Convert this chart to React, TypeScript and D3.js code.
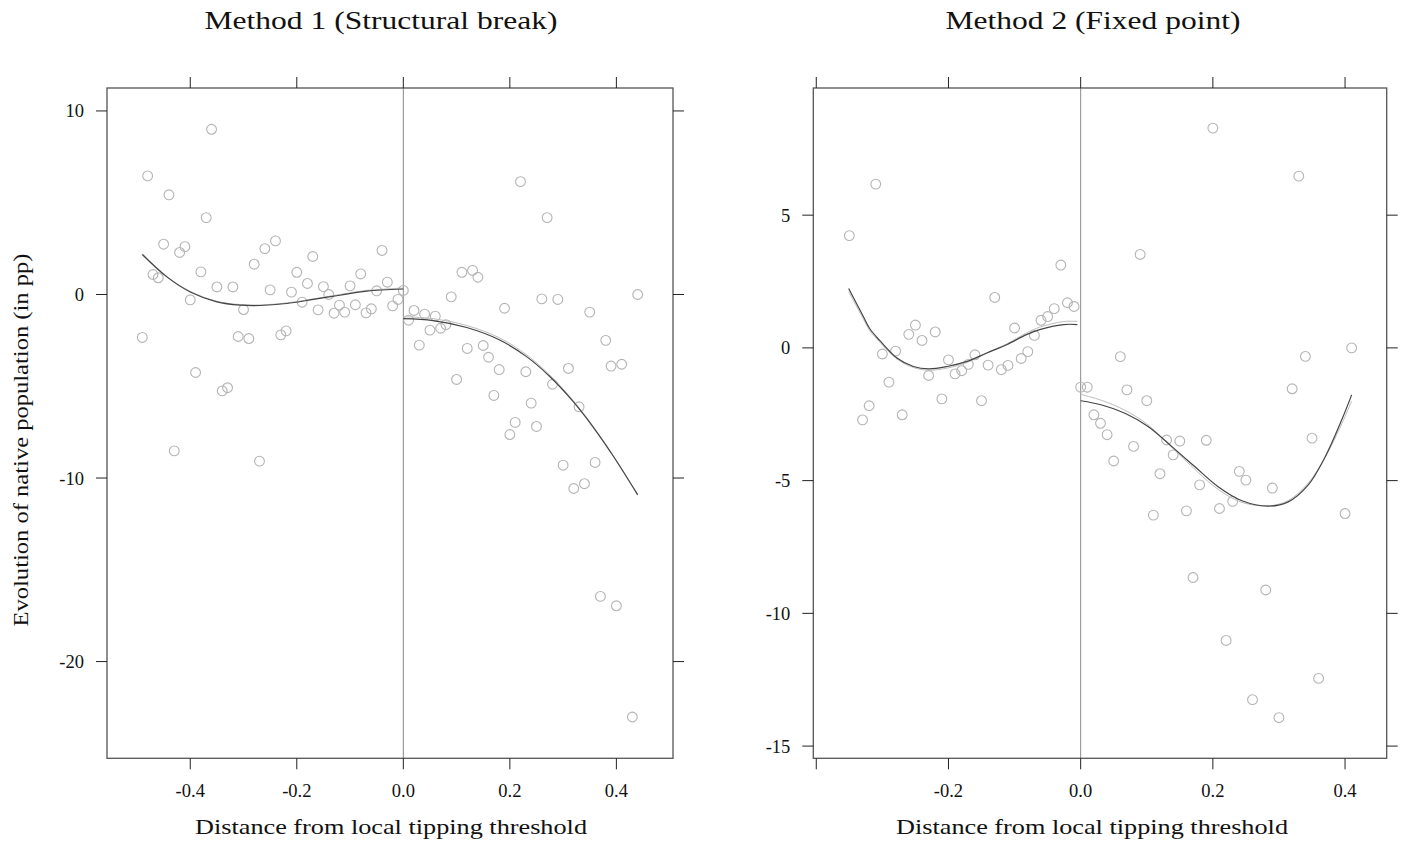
import React from "react";
import * as d3 from "d3";

type P = [number, number];

// ---------- Method 1 (Structural break) ----------
const m1Points: P[] = [
  [-0.49, -2.34], [-0.48, 6.46], [-0.47, 1.09], [-0.46, 0.91], [-0.45, 2.74], [-0.44, 5.43],
  [-0.43, -8.52], [-0.42, 2.29], [-0.41, 2.61], [-0.4, -0.29], [-0.39, -4.25], [-0.38, 1.23],
  [-0.37, 4.19], [-0.36, 9.0], [-0.35, 0.41], [-0.34, -5.25], [-0.33, -5.08], [-0.32, 0.41],
  [-0.31, -2.29], [-0.3, -0.82], [-0.29, -2.4], [-0.28, 1.65], [-0.27, -9.08], [-0.26, 2.5],
  [-0.25, 0.25], [-0.24, 2.92], [-0.23, -2.2], [-0.22, -1.98], [-0.21, 0.13], [-0.2, 1.21],
  [-0.19, -0.42], [-0.18, 0.6], [-0.17, 2.07], [-0.16, -0.84], [-0.15, 0.43], [-0.14, 0.0],
  [-0.13, -1.02], [-0.12, -0.58], [-0.11, -0.96], [-0.1, 0.47], [-0.09, -0.56], [-0.08, 1.12],
  [-0.07, -1.0], [-0.06, -0.78], [-0.05, 0.2], [-0.04, 2.4], [-0.03, 0.67], [-0.02, -0.62],
  [-0.01, -0.27], [0.0, 0.22],
  [0.01, -1.4], [0.02, -0.87], [0.03, -2.76], [0.04, -1.07], [0.05, -1.94], [0.06, -1.18],
  [0.07, -1.84], [0.08, -1.64], [0.09, -0.13], [0.1, -4.63], [0.11, 1.21], [0.12, -2.94],
  [0.13, 1.31], [0.14, 0.94], [0.15, -2.78], [0.16, -3.42], [0.17, -5.5], [0.18, -4.09],
  [0.19, -0.75], [0.2, -7.63], [0.21, -6.97], [0.22, 6.15], [0.23, -4.21], [0.24, -5.92],
  [0.25, -7.19], [0.26, -0.24], [0.27, 4.19], [0.28, -4.89], [0.29, -0.27], [0.3, -9.3],
  [0.31, -4.03], [0.32, -10.57], [0.33, -6.12], [0.34, -10.31], [0.35, -0.96], [0.36, -9.15],
  [0.37, -16.45], [0.38, -2.5], [0.39, -3.9], [0.4, -16.96], [0.41, -3.8], [0.43, -23.02],
  [0.44, 0.0],
];
const m1FitDarkLeft: P[] = [
  [-0.49, 2.18], [-0.444, 0.96], [-0.4, 0.14], [-0.35, -0.4], [-0.306, -0.58], [-0.269, -0.6],
  [-0.219, -0.49], [-0.169, -0.27], [-0.119, -0.04], [-0.069, 0.18], [0.0, 0.3],
];
const m1FitLightLeft: P[] = [
  [-0.49, 2.22], [-0.444, 0.99], [-0.4, 0.17], [-0.35, -0.37], [-0.306, -0.55], [-0.269, -0.57],
  [-0.219, -0.46], [-0.169, -0.24], [-0.119, 0.0], [-0.069, 0.22], [0.0, 0.35],
];
const m1FitDarkRight: P[] = [
  [0.0, -1.31], [0.056, -1.42], [0.119, -1.8], [0.181, -2.48], [0.232, -3.4], [0.275, -4.47],
  [0.319, -5.84], [0.356, -7.21], [0.394, -8.8], [0.44, -10.92],
];
const m1FitLightRight: P[] = [
  [0.0, -1.21], [0.056, -1.32], [0.119, -1.69], [0.181, -2.37], [0.232, -3.3], [0.275, -4.39],
  [0.319, -5.78], [0.356, -7.17], [0.394, -8.77], [0.44, -10.88],
];
const m1XTicks = [-0.4, -0.2, 0.0, 0.2, 0.4];
const m1XLabels = ["-0.4", "-0.2", "0.0", "0.2", "0.4"];
const m1YTicks = [10, 0, -10, -20];
const m1YLabels = ["10", "0", "-10", "-20"];

// ---------- Method 2 (Fixed point) ----------
const m2Points: P[] = [
  [-0.35, 4.23], [-0.33, -2.71], [-0.32, -2.18], [-0.31, 6.17], [-0.3, -0.23], [-0.29, -1.29],
  [-0.28, -0.12], [-0.27, -2.52], [-0.26, 0.51], [-0.25, 0.86], [-0.24, 0.28], [-0.23, -1.04],
  [-0.22, 0.6], [-0.21, -1.92], [-0.2, -0.45], [-0.19, -0.98], [-0.18, -0.86], [-0.17, -0.62],
  [-0.16, -0.26], [-0.15, -1.99], [-0.14, -0.65], [-0.13, 1.9], [-0.12, -0.82], [-0.11, -0.66],
  [-0.1, 0.75], [-0.09, -0.4], [-0.08, -0.14], [-0.07, 0.47], [-0.06, 1.04], [-0.05, 1.18],
  [-0.04, 1.48], [-0.03, 3.12], [-0.02, 1.7], [-0.01, 1.56], [0.0, -1.48],
  [0.01, -1.48], [0.02, -2.52], [0.03, -2.84], [0.04, -3.27], [0.05, -4.26], [0.06, -0.33],
  [0.07, -1.58], [0.08, -3.71], [0.09, 3.52], [0.1, -1.99], [0.11, -6.3], [0.12, -4.74],
  [0.13, -3.47], [0.14, -4.03], [0.15, -3.51], [0.16, -6.14], [0.17, -8.65], [0.18, -5.16],
  [0.19, -3.48], [0.2, 8.28], [0.21, -6.05], [0.22, -11.02], [0.23, -5.78], [0.24, -4.65],
  [0.25, -4.98], [0.26, -13.25], [0.28, -9.12], [0.29, -5.28], [0.3, -13.93], [0.32, -1.54],
  [0.33, 6.47], [0.34, -0.32], [0.35, -3.4], [0.36, -12.45], [0.4, -6.24], [0.41, 0.0],
];
const m2FitDarkLeft: P[] = [
  [-0.351, 2.24], [-0.329, 1.19], [-0.319, 0.72], [-0.304, 0.28], [-0.278, -0.38], [-0.253, -0.7],
  [-0.23, -0.79], [-0.202, -0.7], [-0.172, -0.51], [-0.142, -0.19], [-0.112, 0.12],
  [-0.082, 0.5], [-0.062, 0.69], [-0.026, 0.88], [-0.005, 0.88],
];
const m2FitLightLeft: P[] = [
  [-0.351, 2.12], [-0.329, 1.1], [-0.319, 0.65], [-0.304, 0.22], [-0.278, -0.42], [-0.253, -0.74],
  [-0.23, -0.84], [-0.202, -0.76], [-0.172, -0.55], [-0.142, -0.2], [-0.112, 0.15],
  [-0.082, 0.56], [-0.062, 0.78], [-0.026, 0.99], [-0.005, 1.0],
];
const m2FitDarkRight: P[] = [
  [0.0, -1.99], [0.032, -2.15], [0.067, -2.46], [0.102, -2.96], [0.138, -3.72], [0.173, -4.48],
  [0.208, -5.23], [0.244, -5.76], [0.284, -5.96], [0.314, -5.8], [0.344, -5.17], [0.37, -4.1],
  [0.395, -2.71], [0.41, -1.77],
];
const m2FitLightRight: P[] = [
  [0.0, -1.75], [0.032, -1.98], [0.067, -2.35], [0.102, -2.9], [0.138, -3.75], [0.173, -4.58],
  [0.208, -5.33], [0.244, -5.82], [0.284, -5.95], [0.314, -5.75], [0.344, -5.1], [0.37, -4.12],
  [0.395, -2.86], [0.41, -2.0],
];
const m2XTicks = [-0.4, -0.2, 0.0, 0.2, 0.4];
const m2XLabels = ["", "-0.2", "0.0", "0.2", "0.4"];
const m2YTicks = [5, 0, -5, -10, -15];
const m2YLabels = ["5", "0", "-5", "-10", "-15"];

const FONT = "'Liberation Serif', 'DejaVu Serif', serif";

interface PanelProps {
  left: number; right: number; top: number; bottom: number;
  xDomain: [number, number]; yDomain: [number, number];
  points: P[]; fits: { data: P[]; color: string; width: number }[];
  xTicks: number[]; xLabels: string[]; yTicks: number[]; yLabels: string[];
  title: string; titleX: number; titleLen: number; xLabelX: number;
}

function Panel(p: PanelProps) {
  const x = d3.scaleLinear().domain(p.xDomain).range([p.left, p.right]);
  const y = d3.scaleLinear().domain(p.yDomain).range([p.bottom, p.top]);
  const line = d3.line<P>().x((d) => x(d[0])).y((d) => y(d[1])).curve(d3.curveCatmullRom.alpha(0.5));
  const tl = 11;
  const tickColor = "#222";
  return (
    <g>
      <text x={p.titleX} y={29} textAnchor="middle" fontFamily={FONT} fontSize={26} fill="#111"
        textLength={p.titleLen} lengthAdjust="spacingAndGlyphs">
        {p.title}
      </text>
      <line x1={x(0)} x2={x(0)} y1={p.top} y2={p.bottom} stroke="#8a8a8a" strokeWidth={1} />
      {p.points.map((d, i) => (
        <circle key={i} cx={x(d[0])} cy={y(d[1])} r={4.9} fill="none" stroke="#b4b4b4" strokeWidth={1.1} />
      ))}
      {p.fits.map((f, i) => (
        <path key={i} d={line(f.data) || ""} fill="none" stroke={f.color} strokeWidth={f.width} />
      ))}
      <rect x={p.left} y={p.top} width={p.right - p.left} height={p.bottom - p.top}
        fill="none" stroke="#555" strokeWidth={1.3} />
      {p.xTicks.map((t, i) => (
        <g key={"x" + i}>
          <line x1={x(t)} x2={x(t)} y1={p.bottom} y2={p.bottom + tl} stroke={tickColor} strokeWidth={1} />
          <line x1={x(t)} x2={x(t)} y1={p.top} y2={p.top - tl} stroke={tickColor} strokeWidth={1} />
          <text x={x(t)} y={p.bottom + 38.5} textAnchor="middle" fontFamily={FONT} fontSize={18.5} fill="#111">
            {p.xLabels[i]}
          </text>
        </g>
      ))}
      {p.yTicks.map((t, i) => (
        <g key={"y" + i}>
          <line x1={p.left} x2={p.left - tl} y1={y(t)} y2={y(t)} stroke={tickColor} strokeWidth={1} />
          <line x1={p.right} x2={p.right + tl} y1={y(t)} y2={y(t)} stroke={tickColor} strokeWidth={1} />
          <text x={p.left - 23} y={y(t)} dy="0.35em" textAnchor="end" fontFamily={FONT} fontSize={18.5} fill="#111">
            {p.yLabels[i]}
          </text>
        </g>
      ))}
      <text x={p.xLabelX} y={834} textAnchor="middle" fontFamily={FONT} fontSize={22} fill="#111"
        textLength={392} lengthAdjust="spacingAndGlyphs">
        Distance from local tipping threshold
      </text>
    </g>
  );
}

export default function App() {
  return (
    <svg width={1406} height={841} style={{ position: "absolute", left: 0, top: 0, background: "#fff" }}>
      <rect x={0} y={0} width={1406} height={841} fill="#fff" />
      <Panel
        left={107} right={673} top={88} bottom={758.3}
        xDomain={[-0.5563, 0.5063]} yDomain={[-25.27, 11.25]}
        points={m1Points}
        fits={[
          { data: m1FitLightLeft, color: "#bdbdbd", width: 1 },
          { data: m1FitLightRight, color: "#bdbdbd", width: 1 },
          { data: m1FitDarkLeft, color: "#444", width: 1.2 },
          { data: m1FitDarkRight, color: "#444", width: 1.2 },
        ]}
        xTicks={m1XTicks} xLabels={m1XLabels} yTicks={m1YTicks} yLabels={m1YLabels}
        title="Method 1 (Structural break)" titleX={381} titleLen={353} xLabelX={391}
      />
      <Panel
        left={813.3} right={1386.7} top={88} bottom={758.3}
        xDomain={[-0.4045, 0.463]} yDomain={[-15.46, 9.79]}
        points={m2Points}
        fits={[
          { data: m2FitLightLeft, color: "#bdbdbd", width: 1 },
          { data: m2FitLightRight, color: "#bdbdbd", width: 1 },
          { data: m2FitDarkLeft, color: "#444", width: 1.2 },
          { data: m2FitDarkRight, color: "#444", width: 1.2 },
        ]}
        xTicks={m2XTicks} xLabels={m2XLabels} yTicks={m2YTicks} yLabels={m2YLabels}
        title="Method 2 (Fixed point)" titleX={1093} titleLen={295} xLabelX={1092}
      />
      <text transform="translate(28,440) rotate(-90)" textAnchor="middle" fontFamily={FONT} fontSize={22} fill="#111"
        textLength={373} lengthAdjust="spacingAndGlyphs">
        Evolution of native population (in pp)
      </text>
    </svg>
  );
}
